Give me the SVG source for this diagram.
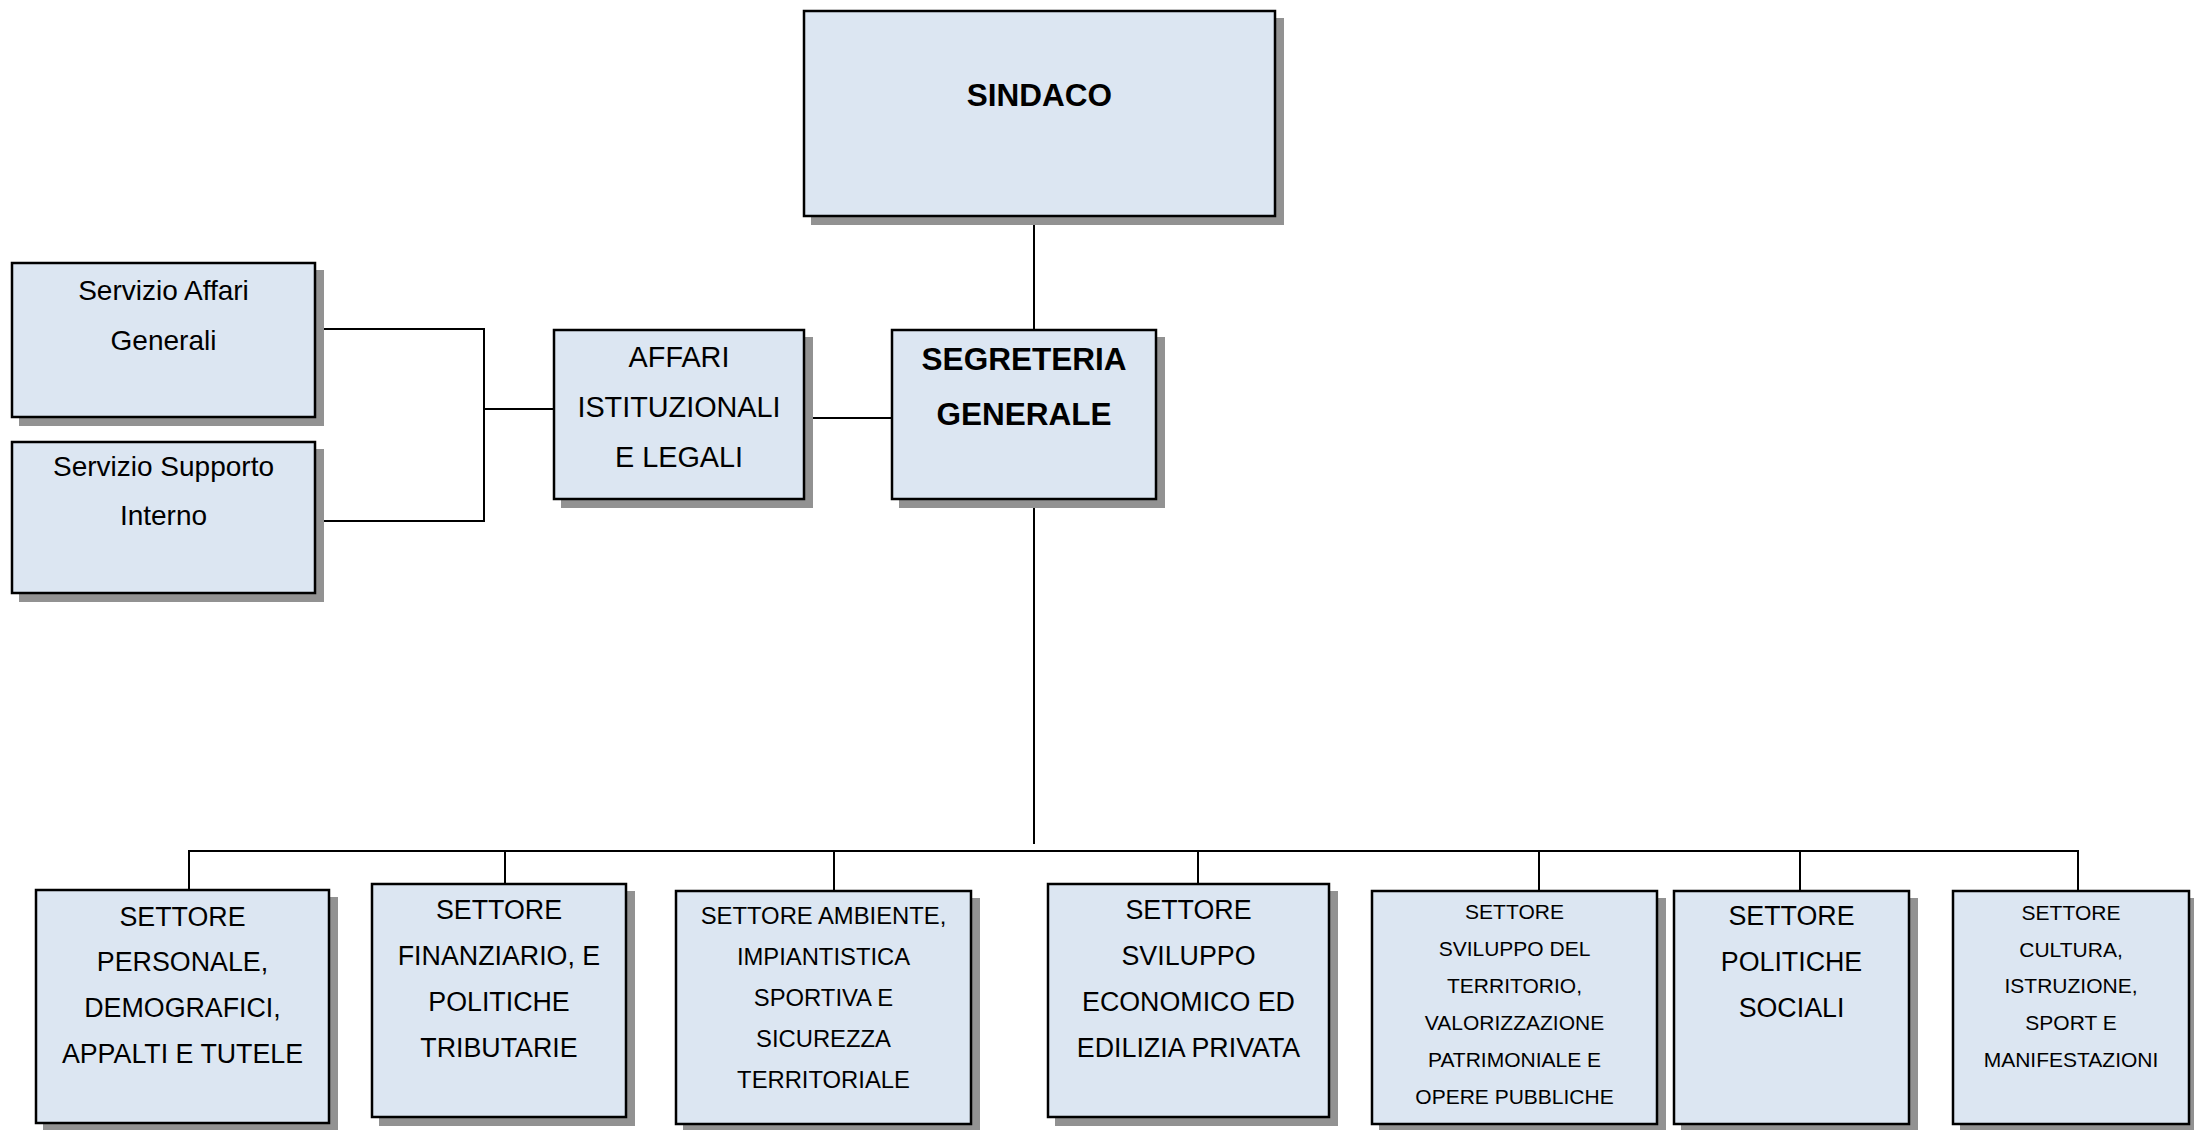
<svg xmlns="http://www.w3.org/2000/svg" width="2194" height="1130" viewBox="0 0 2194 1130">
<style>
.bg{fill:#ffffff}
.sh{fill:#929292}
.bx{fill:#DCE6F2;stroke:#000;stroke-width:2.5}
.ln{stroke:#000;stroke-width:2;fill:none}
text{font-family:"Liberation Sans",Arial,sans-serif;fill:#000;text-anchor:middle}
.b{font-weight:bold;font-size:31.5px}
.m{font-size:28px}
.a{font-size:28.8px}
.l{font-size:26.8px}
.s{font-size:23.8px}
.t{font-size:21px}
</style>
<rect class="bg" x="0" y="0" width="2194" height="1130"/>
<g id="connectors">
<path class="ln" d="M1034 217V329"/>
<path class="ln" d="M805 418H891"/>
<path class="ln" d="M316 329H484V521H316M484 409H553"/>
<path class="ln" d="M1034 500V844"/>
<path class="ln" d="M189 889V851H2078V890"/>
<path class="ln" d="M505 851V883M834 851V890M1198 851V883M1539 851V890M1800 851V890"/>
</g>
<g id="sindaco">
<rect class="sh" x="811" y="18" width="473" height="207"/>
<rect class="bx" x="804" y="11" width="471" height="205"/>
<text class="b" x="1039.5" y="106">SINDACO</text>
</g>
<g id="segreteria">
<rect class="sh" x="899" y="337" width="266" height="171"/>
<rect class="bx" x="892" y="330" width="264" height="169"/>
<text class="b" x="1024" y="370">SEGRETERIA</text>
<text class="b" x="1024" y="425">GENERALE</text>
</g>
<g id="affari">
<rect class="sh" x="561" y="337" width="252" height="171"/>
<rect class="bx" x="554" y="330" width="250" height="169"/>
<text class="a" x="679" y="367">AFFARI</text>
<text class="a" x="679" y="417">ISTITUZIONALI</text>
<text class="a" x="679" y="467">E LEGALI</text>
</g>
<g id="servizio-affari">
<rect class="sh" x="19" y="270" width="305" height="156"/>
<rect class="bx" x="12" y="263" width="303" height="154"/>
<text class="m" x="163.5" y="300">Servizio Affari</text>
<text class="m" x="163.5" y="350">Generali</text>
</g>
<g id="servizio-supporto">
<rect class="sh" x="19" y="449" width="305" height="153"/>
<rect class="bx" x="12" y="442" width="303" height="151"/>
<text class="m" x="163.5" y="476">Servizio Supporto</text>
<text class="m" x="163.5" y="525">Interno</text>
</g>
<g id="settore-personale">
<rect class="sh" x="43" y="897" width="295" height="235"/>
<rect class="bx" x="36" y="890" width="293" height="233"/>
<text class="l" x="182.5" y="926">SETTORE</text>
<text class="l" x="182.5" y="971">PERSONALE,</text>
<text class="l" x="182.5" y="1017">DEMOGRAFICI,</text>
<text class="l" x="182.5" y="1063">APPALTI E TUTELE</text>
</g>
<g id="settore-finanziario">
<rect class="sh" x="379" y="891" width="256" height="235"/>
<rect class="bx" x="372" y="884" width="254" height="233"/>
<text class="l" x="499" y="919">SETTORE</text>
<text class="l" x="499" y="965">FINANZIARIO, E</text>
<text class="l" x="499" y="1011">POLITICHE</text>
<text class="l" x="499" y="1057">TRIBUTARIE</text>
</g>
<g id="settore-ambiente">
<rect class="sh" x="683" y="898" width="297" height="235"/>
<rect class="bx" x="676" y="891" width="295" height="233"/>
<text class="s" x="823.5" y="924">SETTORE AMBIENTE,</text>
<text class="s" x="823.5" y="965">IMPIANTISTICA</text>
<text class="s" x="823.5" y="1006">SPORTIVA E</text>
<text class="s" x="823.5" y="1047">SICUREZZA</text>
<text class="s" x="823.5" y="1088">TERRITORIALE</text>
</g>
<g id="settore-sviluppo-economico">
<rect class="sh" x="1055" y="891" width="283" height="235"/>
<rect class="bx" x="1048" y="884" width="281" height="233"/>
<text class="l" x="1188.5" y="919">SETTORE</text>
<text class="l" x="1188.5" y="965">SVILUPPO</text>
<text class="l" x="1188.5" y="1011">ECONOMICO ED</text>
<text class="l" x="1188.5" y="1057">EDILIZIA PRIVATA</text>
</g>
<g id="settore-territorio">
<rect class="sh" x="1379" y="898" width="287" height="235"/>
<rect class="bx" x="1372" y="891" width="285" height="233"/>
<text class="t" x="1514.5" y="919">SETTORE</text>
<text class="t" x="1514.5" y="956">SVILUPPO DEL</text>
<text class="t" x="1514.5" y="993">TERRITORIO,</text>
<text class="t" x="1514.5" y="1030">VALORIZZAZIONE</text>
<text class="t" x="1514.5" y="1067">PATRIMONIALE E</text>
<text class="t" x="1514.5" y="1104">OPERE PUBBLICHE</text>
</g>
<g id="settore-politiche-sociali">
<rect class="sh" x="1681" y="898" width="237" height="235"/>
<rect class="bx" x="1674" y="891" width="235" height="233"/>
<text class="l" x="1791.5" y="925">SETTORE</text>
<text class="l" x="1791.5" y="971">POLITICHE</text>
<text class="l" x="1791.5" y="1017">SOCIALI</text>
</g>
<g id="settore-cultura">
<rect class="sh" x="1960" y="898" width="238" height="235"/>
<rect class="bx" x="1953" y="891" width="236" height="233"/>
<text class="t" x="2071" y="920">SETTORE</text>
<text class="t" x="2071" y="957">CULTURA,</text>
<text class="t" x="2071" y="993">ISTRUZIONE,</text>
<text class="t" x="2071" y="1030">SPORT E</text>
<text class="t" x="2071" y="1067">MANIFESTAZIONI</text>
</g>
</svg>
